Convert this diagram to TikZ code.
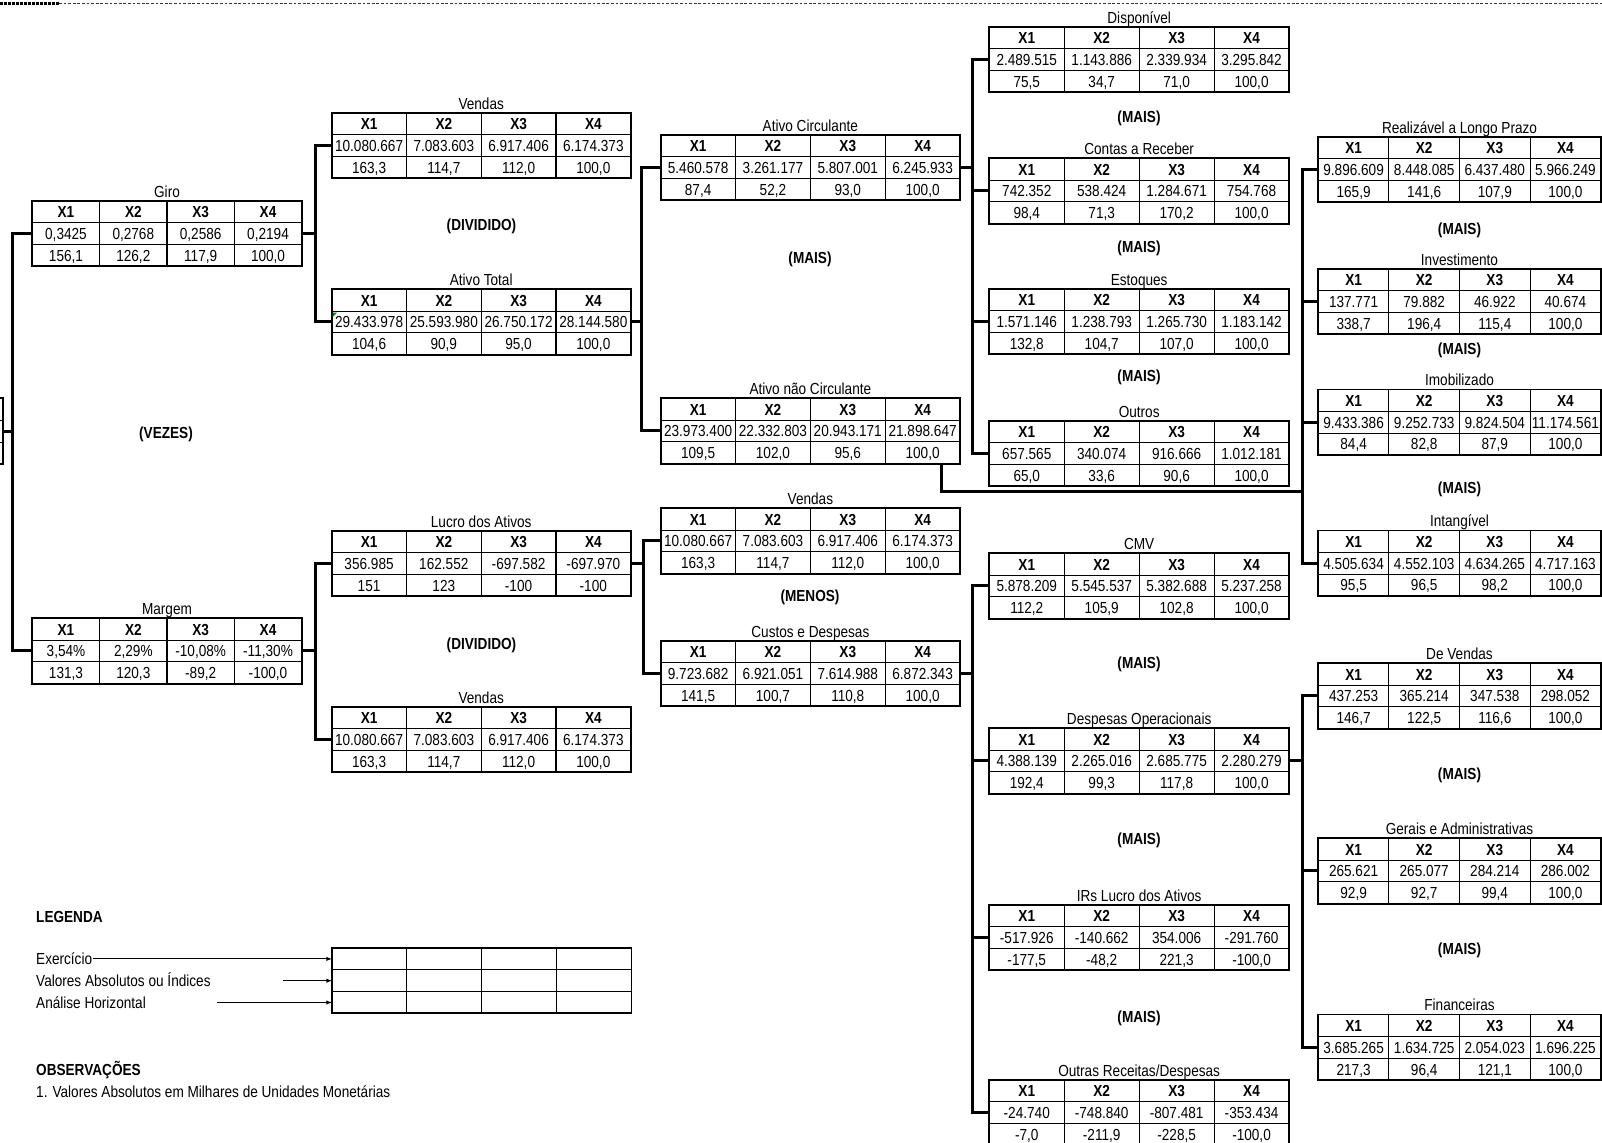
\documentclass[tikz,border=0pt]{standalone}
\usepackage{fontspec}
\setmainfont[FakeStretch=0.85]{Liberation Sans}
\usetikzlibrary{arrows.meta}
\tikzset{
  cell/.style={inner sep=0pt, outer sep=0pt, text height=6pt, text depth=0pt, font=\fontsize{8}{9.6}\selectfont},
  hd/.style={cell, font=\fontsize{8}{9.6}\selectfont\bfseries},
  ttl/.style={anchor=base, inner sep=0pt, font=\fontsize{8}{9.6}\selectfont},
  op/.style={inner sep=0pt, text height=6pt, text depth=0pt, font=\fontsize{8}{9.6}\selectfont\bfseries},
  lgtxt/.style={anchor=west, inner sep=0pt, text height=6pt, text depth=0pt, font=\fontsize{8}{9.6}\selectfont},
  lgbold/.style={lgtxt, font=\fontsize{8}{9.6}\selectfont\bfseries},
  conn/.style={line width=1.5pt},
  tbox/.style={draw, line width=0.9pt, inner sep=0pt, outer sep=0pt},
  inner/.style={line width=0.55pt},
  lgarrow/.style={line width=0.5pt, -{Latex[length=2.8pt,width=2.2pt]}},
}
\newcommand\fintab[5]{%
  \xdef\tX{#2}\xdef\tY{#3}\xdef\tW{#4}%
  \node[tbox, anchor=north west, minimum width={4*#4*0.5pt}, minimum height={65.4*0.5pt}] (#1) at (#2,#3) {};
  \draw[inner] (#2,#3+21.8) -- ++(4*#4,0) (#2,#3+43.6) -- ++(4*#4,0)
     (#2+#4,#3) -- ++(0,65.4) (#2+2*#4,#3) -- ++(0,65.4) (#2+3*#4,#3) -- ++(0,65.4);
  \node[ttl] (#1-t) at (#2+2*#4,#3-3.5) {#5};
  \node[hd] (#1-h1) at (#2+0.5*#4,#3+10.9) {X1};
  \node[hd] (#1-h2) at (#2+1.5*#4,#3+10.9) {X2};
  \node[hd] (#1-h3) at (#2+2.5*#4,#3+10.9) {X3};
  \node[hd] (#1-h4) at (#2+3.5*#4,#3+10.9) {X4};
  \coordinate (#1-L) at (#2,#3+32.7);
  \coordinate (#1-R) at (#2+4*#4,#3+32.7);
}
\newcommand\trow[6]{%
  \node[cell] (#1-#2a) at (\tX+0.5*\tW,\tY+10.9+#2*21.8) {#3};
  \node[cell] (#1-#2b) at (\tX+1.5*\tW,\tY+10.9+#2*21.8) {#4};
  \node[cell] (#1-#2c) at (\tX+2.5*\tW,\tY+10.9+#2*21.8) {#5};
  \node[cell] (#1-#2d) at (\tX+3.5*\tW,\tY+10.9+#2*21.8) {#6};
}
\begin{document}
\begin{tikzpicture}[x=0.5pt,y=-0.5pt]
\useasboundingbox (0,0) rectangle (1602,1143);
\fill[white] (0,0) rectangle (1602,1143);
\clip (0,0) rectangle (1602,1143);

% page-break marks at the top
\draw[line width=1.2pt, dash pattern=on 1.6pt off 0.4pt] (0,3.5) -- (59,3.5);
\draw[line width=0.7pt, dash pattern=on 1.4pt off 0.9pt, black!80] (59,3.5) -- (1602,3.5);

% root table, cut off at the left edge
\node[tbox, anchor=north east, minimum width={67.35*0.5pt}, minimum height={66*0.5pt}] (root) at (3,398.3) {};
\draw[inner] (-70,420.3) -- (3,420.3) (-70,442.3) -- (3,442.3);
\coordinate (root-R) at (3,431.3);

% ---------- tables ----------
\fintab{giro}{32.3}{200.7}{67.35}{Giro}
\trow{giro}{1}{0,3425}{0,2768}{0,2586}{0,2194}
\trow{giro}{2}{156,1}{126,2}{117,9}{100,0}

\fintab{margem}{32.3}{618.3}{67.35}{Margem}
\trow{margem}{1}{3,54\%}{2,29\%}{-10,08\%}{-11,30\%}
\trow{margem}{2}{131,3}{120,3}{-89,2}{-100,0}

\fintab{vendasA}{331.7}{112.7}{74.75}{Vendas}
\trow{vendasA}{1}{10.080.667}{7.083.603}{6.917.406}{6.174.373}
\trow{vendasA}{2}{163,3}{114,7}{112,0}{100,0}

\fintab{ativoT}{331.7}{289.3}{74.75}{Ativo Total}
\trow{ativoT}{1}{29.433.978}{25.593.980}{26.750.172}{28.144.580}
\trow{ativoT}{2}{104,6}{90,9}{95,0}{100,0}
\fill[green!50!black] (332.6,312.6) -- ++(4.5,0) -- ++(-4.5,4.5) -- cycle;

\fintab{lucro}{331.7}{530.7}{74.75}{Lucro dos Ativos}
\trow{lucro}{1}{356.985}{162.552}{-697.582}{-697.970}
\trow{lucro}{2}{151}{123}{-100}{-100}

\fintab{vendasB}{331.7}{706.7}{74.75}{Vendas}
\trow{vendasB}{1}{10.080.667}{7.083.603}{6.917.406}{6.174.373}
\trow{vendasB}{2}{163,3}{114,7}{112,0}{100,0}

\fintab{ativoC}{660.7}{135}{74.83}{Ativo Circulante}
\trow{ativoC}{1}{5.460.578}{3.261.177}{5.807.001}{6.245.933}
\trow{ativoC}{2}{87,4}{52,2}{93,0}{100,0}

\fintab{ativoNC}{660.7}{398.3}{74.83}{Ativo não Circulante}
\trow{ativoNC}{1}{23.973.400}{22.332.803}{20.943.171}{21.898.647}
\trow{ativoNC}{2}{109,5}{102,0}{95,6}{100,0}
\coordinate (ativoNC-B) at (941.7,463.7);

\fintab{vendasC}{660.7}{508.3}{74.83}{Vendas}
\trow{vendasC}{1}{10.080.667}{7.083.603}{6.917.406}{6.174.373}
\trow{vendasC}{2}{163,3}{114,7}{112,0}{100,0}

\fintab{custos}{660.7}{640.7}{74.83}{Custos e Despesas}
\trow{custos}{1}{9.723.682}{6.921.051}{7.614.988}{6.872.343}
\trow{custos}{2}{141,5}{100,7}{110,8}{100,0}

\fintab{disp}{989.3}{26.7}{74.93}{Disponível}
\trow{disp}{1}{2.489.515}{1.143.886}{2.339.934}{3.295.842}
\trow{disp}{2}{75,5}{34,7}{71,0}{100,0}

\fintab{contas}{989.3}{158.3}{74.93}{Contas a Receber}
\trow{contas}{1}{742.352}{538.424}{1.284.671}{754.768}
\trow{contas}{2}{98,4}{71,3}{170,2}{100,0}

\fintab{estoques}{989.3}{288.8}{74.93}{Estoques}
\trow{estoques}{1}{1.571.146}{1.238.793}{1.265.730}{1.183.142}
\trow{estoques}{2}{132,8}{104,7}{107,0}{100,0}

\fintab{outros}{989.3}{420.7}{74.93}{Outros}
\trow{outros}{1}{657.565}{340.074}{916.666}{1.012.181}
\trow{outros}{2}{65,0}{33,6}{90,6}{100,0}

\fintab{cmv}{989.3}{553.3}{74.93}{CMV}
\trow{cmv}{1}{5.878.209}{5.545.537}{5.382.688}{5.237.258}
\trow{cmv}{2}{112,2}{105,9}{102,8}{100,0}

\fintab{despop}{989.3}{728.3}{74.93}{Despesas Operacionais}
\trow{despop}{1}{4.388.139}{2.265.016}{2.685.775}{2.280.279}
\trow{despop}{2}{192,4}{99,3}{117,8}{100,0}

\fintab{irs}{989.3}{905}{74.93}{IRs Lucro dos Ativos}
\trow{irs}{1}{-517.926}{-140.662}{354.006}{-291.760}
\trow{irs}{2}{-177,5}{-48,2}{221,3}{-100,0}

\fintab{outrasrd}{989.3}{1080}{74.93}{Outras Receitas/Despesas}
\trow{outrasrd}{1}{-24.740}{-748.840}{-807.481}{-353.434}
\trow{outrasrd}{2}{-7,0}{-211,9}{-228,5}{-100,0}

\fintab{realiz}{1318.3}{136.8}{70.6}{Realizável a Longo Prazo}
\trow{realiz}{1}{9.896.609}{8.448.085}{6.437.480}{5.966.249}
\trow{realiz}{2}{165,9}{141,6}{107,9}{100,0}

\fintab{invest}{1318.3}{269}{70.6}{Investimento}
\trow{invest}{1}{137.771}{79.882}{46.922}{40.674}
\trow{invest}{2}{338,7}{196,4}{115,4}{100,0}

\fintab{imob}{1318.3}{389.5}{70.6}{Imobilizado}
\trow{imob}{1}{9.433.386}{9.252.733}{9.824.504}{11.174.561}
\trow{imob}{2}{84,4}{82,8}{87,9}{100,0}

\fintab{intang}{1318.3}{530.5}{70.6}{Intangível}
\trow{intang}{1}{4.505.634}{4.552.103}{4.634.265}{4.717.163}
\trow{intang}{2}{95,5}{96,5}{98,2}{100,0}

\fintab{devendas}{1318.3}{663.3}{70.6}{De Vendas}
\trow{devendas}{1}{437.253}{365.214}{347.538}{298.052}
\trow{devendas}{2}{146,7}{122,5}{116,6}{100,0}

\fintab{gerais}{1318.3}{838.3}{70.6}{Gerais e Administrativas}
\trow{gerais}{1}{265.621}{265.077}{284.214}{286.002}
\trow{gerais}{2}{92,9}{92,7}{99,4}{100,0}

\fintab{financ}{1318.3}{1014.5}{70.6}{Financeiras}
\trow{financ}{1}{3.685.265}{1.634.725}{2.054.023}{1.696.225}
\trow{financ}{2}{217,3}{96,4}{121,1}{100,0}

% ---------- operators ----------
\node[op] (opVezes) at (166,432.3) {(VEZES)};
\node[op] (opDiv1) at (481.5,225) {(DIVIDIDO)};
\node[op] (opDiv2) at (481.5,643.3) {(DIVIDIDO)};
\node[op] (opMais1) at (810,258) {(MAIS)};
\node[op] (opMenos) at (810,595.7) {(MENOS)};
\node[op] (opM2) at (1139,116.7) {(MAIS)};
\node[op] (opM3) at (1139,246.7) {(MAIS)};
\node[op] (opM4) at (1139,376) {(MAIS)};
\node[op] (opM5) at (1139,662.7) {(MAIS)};
\node[op] (opM6) at (1139,838.3) {(MAIS)};
\node[op] (opM7) at (1139,1016.7) {(MAIS)};
\node[op] (opM8) at (1459.5,228.3) {(MAIS)};
\node[op] (opM9) at (1459.5,348.3) {(MAIS)};
\node[op] (opM10) at (1459.5,487.5) {(MAIS)};
\node[op] (opM11) at (1459.5,773.3) {(MAIS)};
\node[op] (opM12) at (1459.5,948.3) {(MAIS)};

% ---------- connectors ----------
\coordinate (jA) at (12,0);
\coordinate (jB) at (315,0);
\coordinate (jD) at (641.7,0);
\coordinate (jE) at (643.3,0);
\coordinate (jF) at (972.7,0);
\coordinate (jG) at (1302.7,0);
\coordinate (kANC) at (1302.7,492);

\draw[conn] (root-R) -- (jA |- root-R);
\draw[conn] (giro-L) -| (jA |- margem-L) -- (margem-L);

\draw[conn] (giro-R) -- (jB |- giro-R);
\draw[conn] (vendasA-L) -| (jB |- ativoT-L) -- (ativoT-L);

\draw[conn] (margem-R) -- (jB |- margem-R);
\draw[conn] (lucro-L) -| (jB |- vendasB-L) -- (vendasB-L);

\draw[conn] (ativoT-R) -- (jD |- ativoT-R);
\draw[conn] (ativoC-L) -| (jD |- ativoNC-L) -- (ativoNC-L);

\draw[conn] (lucro-R) -- (jE |- lucro-R);
\draw[conn] (vendasC-L) -| (jE |- custos-L) -- (custos-L);

\draw[conn] (ativoC-R) -- (jF |- ativoC-R);
\draw[conn] (disp-L) -| (jF |- outros-L) -- (outros-L);
\draw[conn] (contas-L) -- (jF |- contas-L);
\draw[conn] (estoques-L) -- (jF |- estoques-L);

\draw[conn] (ativoNC-B) |- (kANC);
\draw[conn] (realiz-L) -| (jG |- intang-L) -- (intang-L);
\draw[conn] (invest-L) -- (jG |- invest-L);
\draw[conn] (imob-L) -- (jG |- imob-L);

\draw[conn] (custos-R) -- (jF |- custos-R);
\draw[conn] (cmv-L) -| (jF |- outrasrd-L) -- (outrasrd-L);
\draw[conn] (despop-L) -- (jF |- despop-L);
\draw[conn] (irs-L) -- (jF |- irs-L);

\draw[conn] (despop-R) -- (jG |- despop-R);
\draw[conn] (devendas-L) -| (jG |- financ-L) -- (financ-L);
\draw[conn] (gerais-L) -- (jG |- gerais-L);

% ---------- legend ----------
\node[lgbold] (lgTitle) at (35.8,916.5) {LEGENDA};
\node[tbox, anchor=north west, minimum width={4*74.85*0.5pt}, minimum height={65.4*0.5pt}] (lgtab) at (332,948) {};
\draw[inner] (332,969.8) -- ++(299.4,0) (332,991.6) -- ++(299.4,0)
  (406.85,948) -- ++(0,65.4) (481.7,948) -- ++(0,65.4) (556.55,948) -- ++(0,65.4);
\coordinate (lgR1) at (332,958.9);
\coordinate (lgR2) at (332,980.7);
\coordinate (lgR3) at (332,1002.5);
\node[lgtxt] (lgEx) at (35.8,958.9) {Exercício};
\node[lgtxt] (lgVa) at (35.8,980.7) {Valores Absolutos ou Índices};
\node[lgtxt] (lgAn) at (35.8,1002.5) {Análise Horizontal};
\coordinate (lgA2) at (283,980.7);
\coordinate (lgA3) at (216.6,1002.5);
\draw[lgarrow] (lgEx.east) -- (lgR1);
\draw[lgarrow] (lgA2) -- (lgR2);
\draw[lgarrow] (lgA3) -- (lgR3);

\node[lgbold] (obsTitle) at (35.8,1069.7) {OBSERVAÇÕES};
\node[lgtxt] (obs1) at (35.8,1091) {1. Valores Absolutos em Milhares de Unidades Monetárias};
\end{tikzpicture}
\end{document}
